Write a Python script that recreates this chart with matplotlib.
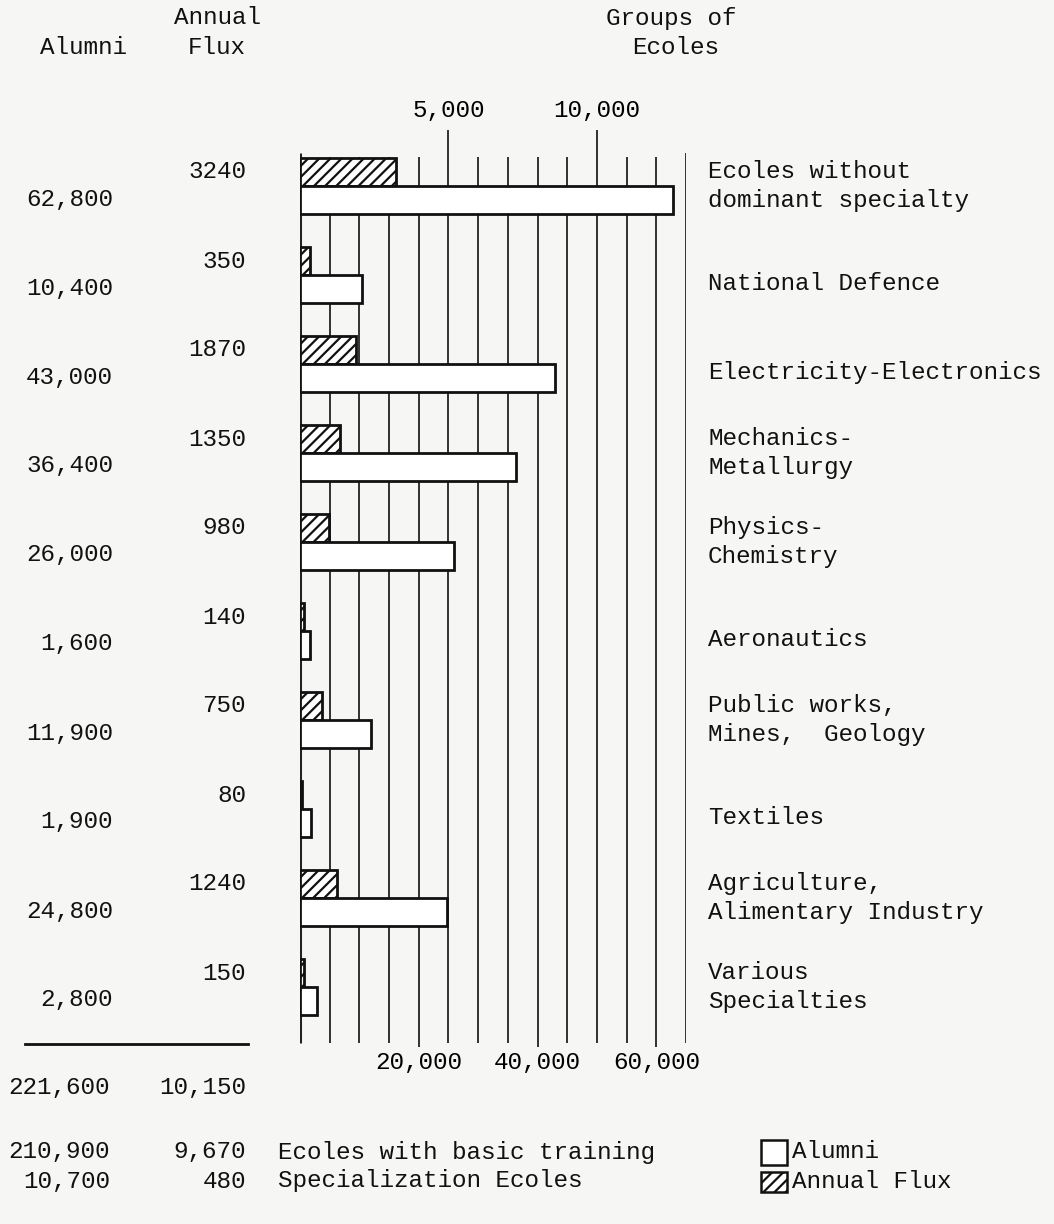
import numpy as np
import matplotlib
matplotlib.use("Agg")
from matplotlib import pyplot as plt
from matplotlib.patches import Rectangle

# data
groups = ["Ecoles without\ndominant specialty", "National Defence",
          "Electricity-Electronics", "Mechanics-\nMetallurgy",
          "Physics-\nChemistry", "Aeronautics", "Public works,\nMines,  Geology",
          "Textiles", "Agriculture,\nAlimentary Industry",
          "Various\nSpecialties"]
alumni = [62800, 10400, 43000, 36400, 26000, 1600, 11900, 1900, 24800, 2800]
flux = [3240, 350, 1870, 1350, 980, 140, 750, 80, 1240, 150]
alumni_labels = ["62,800", "10,400", "43,000", "36,400", "26,000", "1,600",
                 "11,900", "1,900", "24,800", "2,800"]
flux_labels = ["3240", "350", "1870", "1350", "980", "140", "750", "80",
               "1240", "150"]
total_labels = ["221,600", "10,150"]
split_names = ["Ecoles with basic training", "Specialization Ecoles"]
split_alumni = ["210,900", "10,700"]
split_flux = ["9,670", "480"]
bottom_ticks = [20000, 40000, 60000]
top_ticks = [5000, 10000]

W, H = 1054, 1224
BG = "#f6f6f4"
FONT = "Liberation Mono"
FS = 17.5
plt.rcParams["font.family"] = FONT
plt.rcParams["hatch.linewidth"] = 1.6

fig = plt.figure(figsize=(W / 100, H / 100), dpi=100, facecolor=BG)

# main axes: x in alumni units, y in row units
y_top, y_bot = 130, 1048
row0, step = 186, 89
ax = fig.add_axes([300 / W, 1 - y_bot / H, 386 / W, (y_bot - y_top) / H])
ax.set_facecolor("none")
ax.set_xlim(0, 65000)
ax.set_ylim((y_bot - row0) / step, (y_top - row0) / step)
for s in ax.spines.values():
    s.set_visible(False)
ax.set_yticks([])
ax.set_xticks(bottom_ticks)
ax.set_xticklabels([f"{t:,}" for t in bottom_ticks], fontsize=FS)
ax.tick_params(axis="x", length=0, pad=2)

def r(px):
    return (px - row0) / step

# vertical rules
for gx in np.arange(0, 70000, 5000):
    top = 130 if gx in (25000, 50000) else (153 if gx in (0, 65000) else 157)
    bot = 1047 if gx in bottom_ticks else 1043
    lw = 2.2 if gx == 0 else 1.3
    ax.vlines(gx, r(top), r(bot), color="#222222", lw=lw, zorder=1)

# top flux axis: 1 flux unit = 5 alumni units
sec = ax.secondary_xaxis("top", functions=(lambda x: x / 5, lambda x: x * 5))
sec.set_xticks(top_ticks)
sec.set_xticklabels([f"{t:,}" for t in top_ticks], fontsize=FS)
sec.tick_params(length=0, pad=6)
sec.spines["top"].set_visible(False)

rows = np.arange(len(groups))
bh = 0.31
ax.barh(rows - bh / 2, np.array(flux) * 5, height=bh, color="white",
        edgecolor="#111111", lw=2, hatch="///", zorder=3)
ax.barh(rows + bh / 2, alumni, height=bh, color="white",
        edgecolor="#111111", lw=2, zorder=3)

# side text in figure pixel coords
def txt(x, y, s, ha="left", va="center", **kw):
    fig.text(x / W, 1 - y / H, s, ha=ha, va=va, fontsize=FS, color="#111111", **kw)

txt(83, 47, "Alumni", ha="center")
txt(218, 18, "Annual", ha="center")
txt(217, 47, "Flux", ha="center")
txt(671, 18, "Groups of", ha="center")
txt(676, 47, "Ecoles", ha="center")

for i in rows:
    yc = row0 + step * i
    txt(246, yc - 14, flux_labels[i], ha="right")
    txt(113, yc + 13, alumni_labels[i], ha="right")
    if "\n" in groups[i]:
        txt(708, yc, groups[i], linespacing=1.3)
    else:
        txt(708, yc + 8, groups[i])

fig.add_artist(plt.Line2D([25 / W, 248 / W], [1 - 1044 / H, 1 - 1044 / H],
                          color="#111111", lw=2))
txt(110, 1087, total_labels[0], ha="right")
txt(246, 1087, total_labels[1], ha="right")

for k in range(2):
    y = 1152 + 29 * k
    txt(110, y, split_alumni[k], ha="right")
    txt(246, y, split_flux[k], ha="right")
    txt(278, y, split_names[k])

# legend boxes
fig.add_artist(Rectangle((761 / W, 1 - 1165 / H), 26 / W, 25 / H,
                         facecolor="white", edgecolor="#111111", lw=1.8))
fig.add_artist(Rectangle((761 / W, 1 - 1192 / H), 26 / W, 20 / H,
                         facecolor="white", edgecolor="#111111", lw=1.8,
                         hatch="///"))
txt(792, 1152, "Alumni")
txt(792, 1181, "Annual Flux")

fig.savefig("out.png", dpi=100, facecolor=BG)
